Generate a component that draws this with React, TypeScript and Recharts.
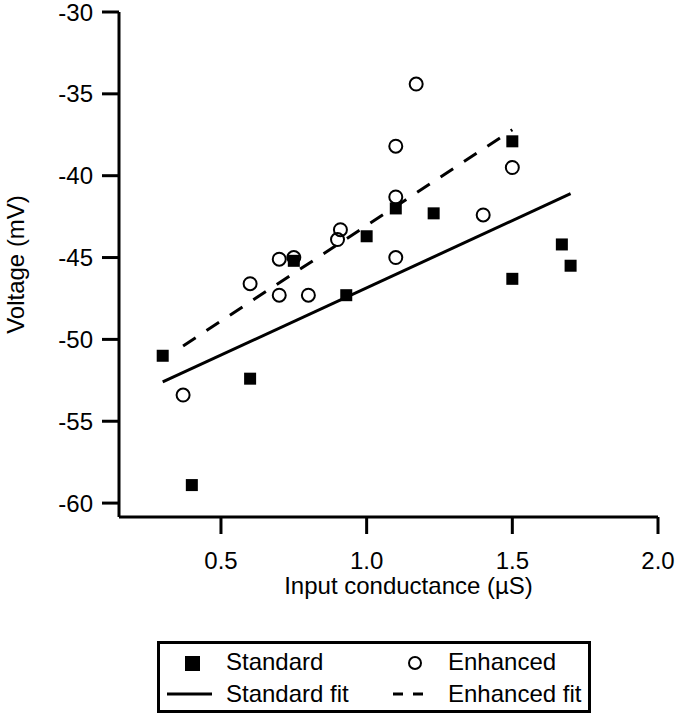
import { ScatterChart, Scatter, XAxis, YAxis, ReferenceLine, Legend, Label } from "recharts";

const FONT = "'Liberation Sans', Arial, Helvetica, sans-serif";

// measured points (input conductance in µS, voltage in mV)
const standardX = [0.3, 0.4, 0.6, 0.75, 0.93, 1.0, 1.1, 1.23, 1.5, 1.5, 1.67, 1.7];
const standardY = [-51.0, -58.9, -52.4, -45.2, -47.3, -43.7, -42.0, -42.3, -37.9, -46.3, -44.2, -45.5];
const enhancedX = [0.37, 0.6, 0.7, 0.7, 0.75, 0.8, 0.9, 0.91, 1.1, 1.1, 1.1, 1.17, 1.4, 1.5];
const enhancedY = [-53.4, -46.6, -47.3, -45.1, -45.0, -47.3, -43.9, -43.3, -45.0, -41.3, -38.2, -34.4, -42.4, -39.5];

// linear fits, end points
const standardFitX = [0.3, 1.7];
const standardFitY = [-52.6, -41.1];
const enhancedFitX = [0.37, 1.5];
const enhancedFitY = [-50.4, -37.2];

const xTicks = [0.5, 1.0, 1.5, 2.0];
const yTicks = [-60, -55, -50, -45, -40, -35, -30];

const toPoints = (xs: number[], ys: number[]) => xs.map((x, i) => ({ x, y: ys[i] }));

const standardData = toPoints(standardX, standardY);
const enhancedData = toPoints(enhancedX, enhancedY);
const standardFit = toPoints(standardFitX, standardFitY);
const enhancedFit = toPoints(enhancedFitX, enhancedFitY);

const Square = (props: any) => {
  const { cx, cy } = props;
  return <rect x={cx - 6} y={cy - 6} width={12} height={12} fill="#000" />;
};

const Ring = (props: any) => {
  const { cx, cy } = props;
  return <circle cx={cx} cy={cy} r={6.5} fill="none" stroke="#000" strokeWidth={2} />;
};

const textStyle = { fontFamily: FONT, fontSize: 24, fill: "#000" };

const LegendBox = () => (
  <svg width={434} height={72} style={{ display: "block" }}>
    <rect x={1.5} y={1.5} width={431} height={69} fill="#fff" stroke="#000" strokeWidth={3} />
    <rect x={28} y={15} width={15} height={15} fill="#000" />
    <text x={69} y={29} style={textStyle}>Standard</text>
    <circle cx={258} cy={22} r={6} fill="none" stroke="#000" strokeWidth={2} />
    <text x={291} y={29} style={textStyle}>Enhanced</text>
    <line x1={10} y1={53} x2={55} y2={53} stroke="#000" strokeWidth={3} />
    <text x={69} y={61} style={textStyle}>Standard fit</text>
    <line x1={236} y1={53} x2={266} y2={53} stroke="#000" strokeWidth={3} strokeDasharray="10 10" />
    <text x={291} y={61} style={textStyle}>Enhanced fit</text>
  </svg>
);

export default function App() {
  return (
    <div style={{ position: "absolute", left: 0, top: 0, background: "#fff" }}>
      <ScatterChart width={678} height={719} margin={{ top: 12, right: 20, bottom: 0, left: 0 }}>
        <XAxis
          type="number"
          dataKey="x"
          domain={[0.15, 2.0]}
          ticks={xTicks}
          interval={0}
          tickFormatter={(v: number) => v.toFixed(1)}
          height={202}
          tickSize={17}
          tickMargin={18}
          axisLine={{ stroke: "#000", strokeWidth: 3 }}
          tickLine={{ stroke: "#000", strokeWidth: 3 }}
          tick={textStyle}
        >
          <Label
            value="Input conductance (µS)"
            position="insideTop"
            offset={60}
            dx={20}
            style={textStyle}
          />
        </XAxis>
        <YAxis
          type="number"
          dataKey="y"
          domain={[-60.85, -30]}
          ticks={yTicks}
          interval={0}
          width={119}
          tickSize={17}
          tickMargin={9}
          axisLine={{ stroke: "#000", strokeWidth: 3 }}
          tickLine={{ stroke: "#000", strokeWidth: 3 }}
          tick={textStyle}
        >
          <Label
            value="Voltage (mV)"
            angle={-90}
            position="insideLeft"
            offset={15}
            style={{ ...textStyle, textAnchor: "middle" }}
          />
        </YAxis>
        <ReferenceLine
          segment={standardFit}
          stroke="#000"
          strokeWidth={3}
        />
        <ReferenceLine
          segment={enhancedFit}
          stroke="#000"
          strokeWidth={3}
          strokeDasharray="15 13"
        />
        <Scatter name="Enhanced" data={enhancedData} shape={Ring} isAnimationActive={false} />
        <Scatter name="Standard" data={standardData} shape={Square} isAnimationActive={false} />
        <Legend
          layout="horizontal"
          verticalAlign="middle"
          align="center"
          content={<LegendBox />}
          wrapperStyle={{ left: 157, top: 641, width: 434, height: 72 }}
        />
      </ScatterChart>
    </div>
  );
}
